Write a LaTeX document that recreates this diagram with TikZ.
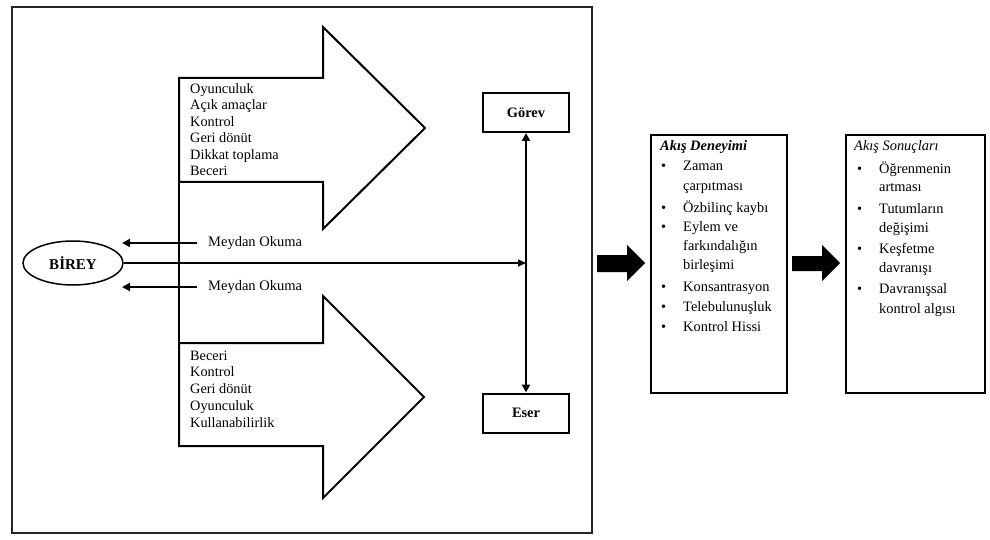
\documentclass[tikz,border=0pt]{standalone}
\usepackage{fontspec}
\setmainfont{Liberation Serif}
\usetikzlibrary{arrows.meta,shapes.geometric}
\begin{document}
\begin{tikzpicture}[x=1pt,y=-1pt,
  listtxt/.style={font=\fontsize{14.3}{16.5}\selectfont, inner sep=0pt, anchor=base west},
  boxtxt/.style={font=\fontsize{14.4}{19}\selectfont, inner sep=0pt, anchor=base west},
  bigarrow/.style={draw=black, line width=2pt, line join=miter, fill=white},
  smallbox/.style={draw=black, line width=2pt, minimum width=86pt, minimum height=39pt, inner sep=0pt, font=\fontsize{14.4}{16}\selectfont\bfseries},
  flowbox/.style={draw=black, line width=2.2pt, anchor=north west, inner sep=0pt},
  thinarr/.style={line width=2pt, -{Triangle[length=8pt,width=8pt]}},
  blockarr/.style={fill=black, draw=none}]
\useasboundingbox (0,0) rectangle (990,540);
% outer frame
\draw[line width=1.3pt, black!85] (12,7) rectangle (592,533);
% big arrows
\draw[bigarrow] (179,182) -- (179,78) -- (323,78) -- (323,27) -- (425,128) -- (323,229) -- (323,182) -- cycle;
\draw[bigarrow] (179,343) -- (323,343) -- (323,296) -- (424,397) -- (323,498) -- (323,446) -- (179,446) -- cycle;
\draw[line width=1.3pt] (179,182) -- (179,343);
% lists
\foreach \t [count=\i] in {Oyunculuk, Açık amaçlar, Kontrol, Geri dönüt, Dikkat toplama, Beceri}
  \node[listtxt] (up\i) at (190,{93.5+16.5*(\i-1)}) {\t};
\foreach \t [count=\i] in {Beceri, Kontrol, Geri dönüt, Oyunculuk, Kullanabilirlik}
  \node[listtxt] (lo\i) at (190,{360+16.8*(\i-1)}) {\t};
% Birey
\node[draw, ellipse, line width=1.5pt, minimum width=100pt, minimum height=44pt, inner sep=0pt, font=\fontsize{15}{16}\selectfont\bfseries] (birey) at (73,263) {BİREY};
% Gorev / Eser
\node[smallbox] (gorev) at (526,112.5) {Görev};
\node[smallbox] (eser) at (526,413) {Eser};
\coordinate (j) at (gorev.south |- birey.east);
\draw[line width=1.5pt, -{Triangle[length=8pt,width=7pt]}] (birey.east) -- (j);
\draw[line width=2.2pt, {Triangle[length=8pt,width=8pt]}-{Triangle[length=8pt,width=8pt]}] (gorev.south) -- (eser.north);
% Meydan okuma
\node[font=\fontsize{14.5}{16}\selectfont, anchor=west, inner sep=0pt] (m1) at (208,243) {Meydan Okuma};
\node[font=\fontsize{14.5}{16}\selectfont, anchor=west, inner sep=0pt] (m2) at (208,287) {Meydan Okuma};
\coordinate (e1) at (122,243);
\coordinate (e2) at (122,287);
\draw[thinarr] ([xshift=-11pt]m1.west) -- (e1);
\draw[thinarr] ([xshift=-11pt]m2.west) -- (e2);
% block arrows
\fill[blockarr] (597,255) -- (627,255) -- (627,245) -- (645,263) -- (627,281) -- (627,272) -- (597,272) -- cycle;
\fill[blockarr] (792,256) -- (822,256) -- (822,245) -- (840,263) -- (822,281) -- (822,271) -- (792,271) -- cycle;
% flow boxes
\node[flowbox, minimum width=136pt, minimum height=258pt] (deneyim) at (650,134) {};
\node[flowbox, minimum width=139pt, minimum height=258pt] (sonuc) at (845,134) {};
\node[boxtxt, font=\fontsize{14.4}{19}\selectfont\bfseries\itshape] (d0) at (660,151) {Akış Deneyimi};
\foreach \t/\y/\b [count=\i] in {Zaman/171/1, çarpıtması/190/0, Özbilinç kaybı/212/1, Eylem ve/231/1, farkındalığın/250/0, birleşimi/269/0, Konsantrasyon/291/1, Telebulunuşluk/311/1, Kontrol Hissi/331/1}{
  \node[boxtxt] (d\i) at (683,\y) {\t};
  \ifnum\b=1 \node[boxtxt] (db\i) at (661,\y) {•}; \fi
}
\node[boxtxt, font=\fontsize{14.4}{19}\selectfont\itshape] (s0) at (854,151) {Akış Sonuçları};
\foreach \t/\y/\b [count=\i] in {Öğrenmenin/174/1, artması/192/0, Tutumların/213/1, değişimi/232/0, Keşfetme/253/1, davranışı/272/0, Davranışsal/293/1, kontrol algısı/313/0}{
  \node[boxtxt] (s\i) at (879,\y) {\t};
  \ifnum\b=1 \node[boxtxt] (sb\i) at (857,\y) {•}; \fi
}
\end{tikzpicture}
\end{document}
